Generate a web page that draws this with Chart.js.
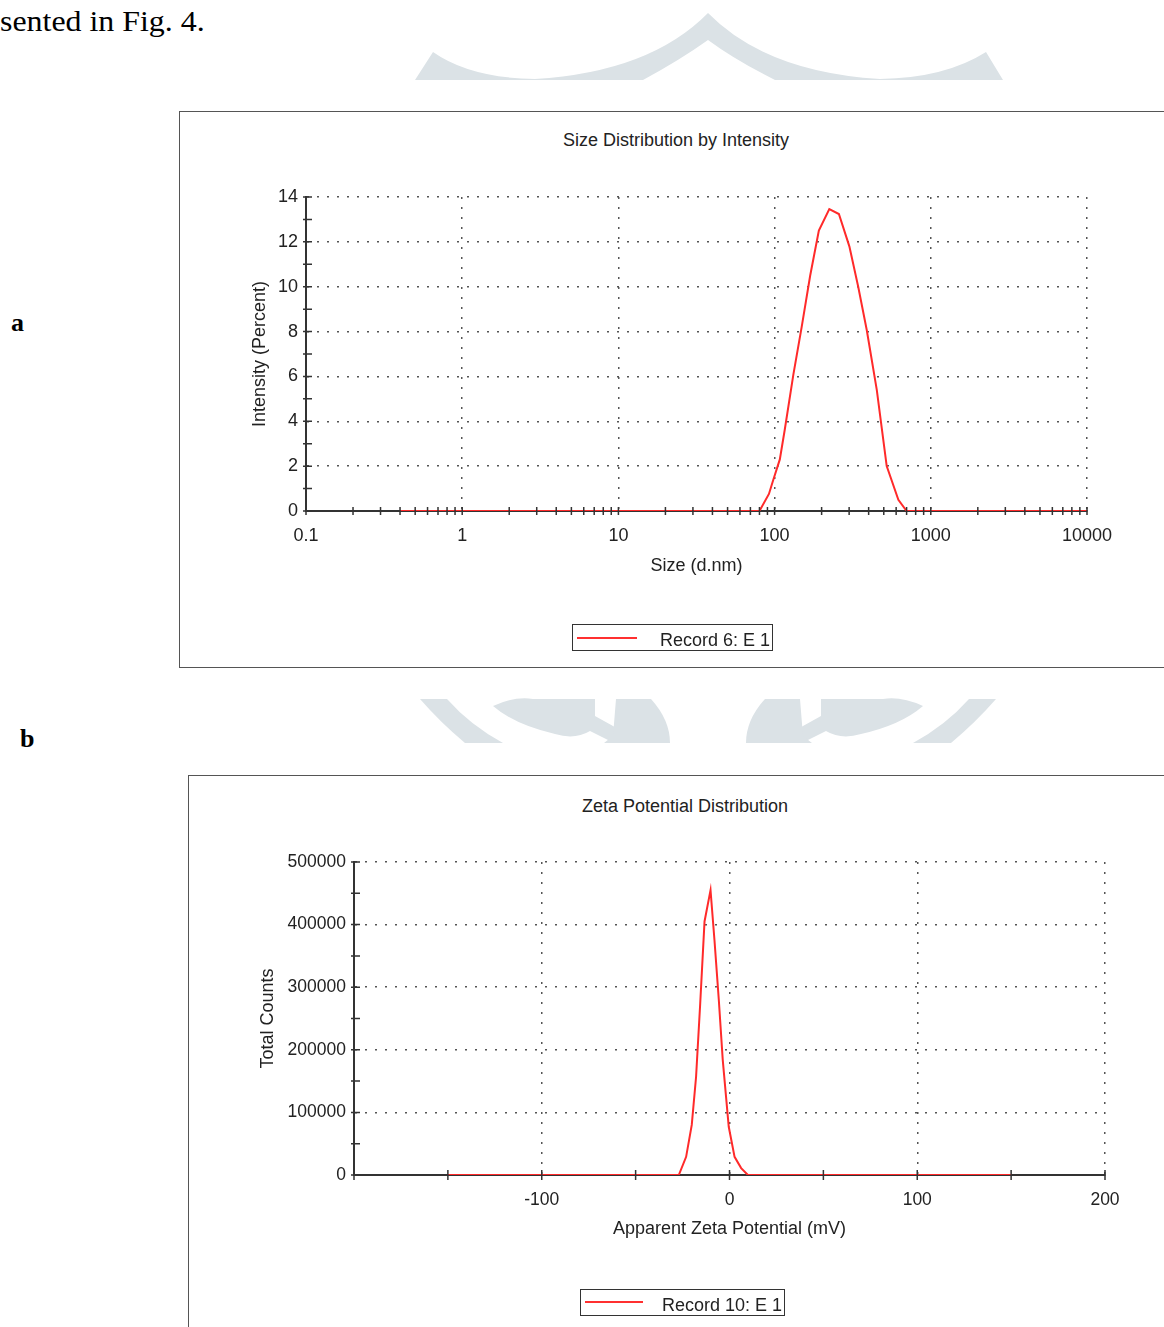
<!DOCTYPE html>
<html>
<head>
<meta charset="utf-8">
<script src="https://cdn.jsdelivr.net/npm/chart.js@4.4.1/dist/chart.umd.min.js"></script>
<style>
    body {
        margin: 0;
        width: 1164px;
        height: 1327px;
        position: relative;
        overflow: hidden;
        background: #fff;
        font-family: "Liberation Sans", Arial, sans-serif;
        color: #222;
    }
    .abs { position: absolute; }
    .panel { position: absolute; border: 1.5px solid #555; }
    .title { position: absolute; font-size: 18px; white-space: nowrap; transform: translate(-50%, -50%); }
    .legend { position: absolute; border: 1.5px solid #333; height: 25px; font-size: 18px; }
    .legend .swatch { position: absolute; left: 4px; top: 11px; width: 60px; height: 2px; background: #ff3030; }
    .legend .txt { position: absolute; right: 2px; top: 4px; line-height: 22px; }
    .serif { font-family: "Liberation Serif", "Times New Roman", serif; color: #000; }
    canvas { position: absolute; }
</style>
</head>
<body>
<svg class="abs" style="left:0;top:0" width="1164" height="1327">
    <g fill="#dbe2e6">
        <path d="M415,80 L433,52 Q470,78 535,79 Q650,72 708,13 Q766,72 880,79 Q945,78 986,52 L1003,80 L775,80 Q735,60 708,40 Q680,60 643,80 Z"/>
        <g id="wmHalf">
            <path d="M420,699 L447,699 Q470,725 503,743 L465,743 Q440,722 420,699 Z"/>
            <path d="M493,706 Q515,696 533,699 L595,699 L595,716 L622,731 L612,742 L590,731 Q575,740 555,734 Q515,725 493,706 Z"/>
            <path d="M616,699 L651,699 Q670,720 670,743 L604,743 L613,736 Z"/>
        </g>
        <use href="#wmHalf" transform="translate(1416,0) scale(-1,1)"/>
    </g>
</svg>

<div class="abs serif" style="left:0;top:7px;font-size:29px;line-height:29px;transform:scaleX(1.1);transform-origin:0 0">sented in Fig. 4.</div>
<div class="abs serif" style="left:11px;top:308px;font-size:26px;line-height:30px;font-weight:bold">a</div>
<div class="abs serif" style="left:20px;top:724px;font-size:26px;line-height:30px;font-weight:bold">b</div>

<div class="panel" style="left:179px;top:111px;width:1000px;height:555px"></div>
<div class="panel" style="left:188px;top:775px;width:1000px;height:600px"></div>

<div class="title" style="left:676px;top:140px">Size Distribution by Intensity</div>
<div class="title" style="left:685px;top:806px">Zeta Potential Distribution</div>

<canvas id="sizeChart" width="984" height="556" style="left:180px;top:112px"></canvas>
<canvas id="zetaChart" width="975" height="551" style="left:189px;top:776px"></canvas>

<div class="legend" style="left:572px;top:624px;width:199px">
    <div class="swatch" style="top:12px"></div><span class="txt">Record 6: E 1</span>
</div>
<div class="legend" style="left:580px;top:1289px;width:203px">
    <div class="swatch" style="width:58px"></div><span class="txt">Record 10: E 1</span>
</div>

<script>
// size distribution (a)
const sizeNm = [0.4, 80, 92, 98, 108, 116, 132, 149, 169, 192, 224, 258, 301, 343, 389, 451, 522, 620, 700, 10000];
const intensityPct = [0, 0, 0.76, 1.38, 2.3, 3.6, 6.1, 8.2, 10.5, 12.5, 13.46, 13.24, 11.8, 10.0, 8.07, 5.4, 2.0, 0.5, 0, 0];
const sizeDecades = [0.1, 1, 10, 100, 1000, 10000];
const intensityLabels = [0, 2, 4, 6, 8, 10, 12, 14];

// zeta potential (b)
const zetaMv = [-150, -27, -23.1, -20.1, -17.8, -15.6, -13.3, -10.1, -8.0, -5.7, -3.6, -0.4, 2.7, 6.2, 9.8, 150];
const zetaCounts = [0, 0, 29000, 80000, 157000, 274000, 405000, 455000, 375000, 280000, 184000, 77000, 29000, 11000, 0, 0];
const zetaLabels = [-100, 0, 100, 200];
const countLabels = [0, 100000, 200000, 300000, 400000, 500000];

Chart.defaults.font.family = '"Liberation Sans", Arial, sans-serif';
Chart.defaults.color = "#222";

const GRID = "#555";
const AXIS = "#333";

function isDecade(v) {
    return sizeDecades.some((d) => Math.abs(d - v) / d < 1e-6);
}

// all 1..9 ticks of each decade
const sizeTicks = [];
sizeDecades.slice(0, -1).forEach((d) => {
    for (let m = 1; m <= 9; m++) sizeTicks.push(d * m);
});
sizeTicks.push(10000);

// small tick marks crossing the axes
const tickMarks = {
    id: "tickMarks",
    afterDraw(chart, args, opts) {
        const { ctx, chartArea } = chart;
        const xs = chart.scales.x;
        const ys = chart.scales.y;
        ctx.save();
        ctx.strokeStyle = AXIS;
        ctx.lineWidth = 1.5;
        ctx.beginPath();
        xs.ticks.forEach((t, i) => {
            const px = xs.getPixelForTick(i);
            ctx.moveTo(px, chartArea.bottom - opts.xUp);
            ctx.lineTo(px, chartArea.bottom + opts.xDown);
        });
        ys.ticks.forEach((t, i) => {
            const py = ys.getPixelForTick(i);
            ctx.moveTo(chartArea.left - 3, py);
            ctx.lineTo(chartArea.left + 6, py);
        });
        ctx.stroke();
        ctx.restore();
    },
};

function axisTitle(text) {
    return { display: true, text: text, font: { size: 18 }, color: "#222", padding: 0 };
}

new Chart(document.getElementById("sizeChart"), {
    type: "scatter",
    data: {
        datasets: [
            {
                label: "Record 6: E 1",
                data: sizeNm.map((x, i) => ({ x: x, y: intensityPct[i] })),
                showLine: true,
                borderColor: "#ff2a2a",
                borderWidth: 2,
                pointRadius: 0,
                tension: 0,
            },
        ],
    },
    plugins: [tickMarks],
    options: {
        responsive: false,
        animation: false,
        layout: { padding: { left: 69, right: 77, top: 85, bottom: 91 } },
        plugins: {
            legend: { display: false },
            tooltip: { enabled: false },
            tickMarks: { xUp: 4, xDown: 4 },
        },
        scales: {
            x: {
                type: "logarithmic",
                min: 0.1,
                max: 10000,
                afterBuildTicks: (scale) => {
                    scale.ticks = sizeTicks.map((v) => ({ value: v }));
                },
                afterFit: (scale) => {
                    scale.height = 66;
                },
                ticks: {
                    autoSkip: false,
                    maxRotation: 0,
                    padding: 14,
                    font: { size: 18 },
                    callback: (v) => (isDecade(v) ? String(sizeDecades.find((d) => Math.abs(d - v) / d < 1e-6)) : ""),
                },
                grid: {
                    drawTicks: false,
                    lineWidth: 1.5,
                    color: (c) => (c.tick && isDecade(c.tick.value) ? GRID : "rgba(0,0,0,0)"),
                },
                border: { color: AXIS, width: 2, dash: [2, 8] },
                title: axisTitle("Size (d.nm)"),
            },
            y: {
                min: 0,
                max: 14,
                afterFit: (scale) => {
                    scale.width = 57;
                },
                ticks: {
                    stepSize: 1,
                    autoSkip: false,
                    padding: 8,
                    font: { size: 18 },
                    callback: (v) => (intensityLabels.includes(v) ? String(v) : ""),
                },
                grid: {
                    drawTicks: false,
                    lineWidth: 1.5,
                    color: (c) => (c.tick && intensityLabels.includes(c.tick.value) ? GRID : "rgba(0,0,0,0)"),
                },
                border: { color: AXIS, width: 2, dash: [2, 8] },
                title: axisTitle("Intensity (Percent)"),
            },
        },
    },
});

new Chart(document.getElementById("zetaChart"), {
    type: "scatter",
    data: {
        datasets: [
            {
                label: "Record 10: E 1",
                data: zetaMv.map((x, i) => ({ x: x, y: zetaCounts[i] })),
                showLine: true,
                borderColor: "#ff2a2a",
                borderWidth: 2,
                pointRadius: 0,
                tension: 0,
            },
        ],
    },
    plugins: [tickMarks],
    options: {
        responsive: false,
        animation: false,
        layout: { padding: { left: 68, right: 59, top: 86, bottom: 87 } },
        plugins: {
            legend: { display: false },
            tooltip: { enabled: false },
            tickMarks: { xUp: 5, xDown: 5 },
        },
        scales: {
            x: {
                min: -200,
                max: 200,
                afterFit: (scale) => {
                    scale.height = 65;
                },
                ticks: {
                    stepSize: 50,
                    autoSkip: false,
                    maxRotation: 0,
                    padding: 15,
                    font: { size: 17.5 },
                    callback: (v) => (zetaLabels.includes(v) ? String(v) : ""),
                },
                grid: {
                    drawTicks: false,
                    lineWidth: 1.5,
                    color: (c) => (c.tick && zetaLabels.includes(c.tick.value) ? GRID : "rgba(0,0,0,0)"),
                },
                border: { color: AXIS, width: 2, dash: [2, 8] },
                title: axisTitle("Apparent Zeta Potential (mV)"),
            },
            y: {
                min: 0,
                max: 500000,
                afterFit: (scale) => {
                    scale.width = 97;
                },
                ticks: {
                    stepSize: 50000,
                    autoSkip: false,
                    padding: 8,
                    font: { size: 17.5 },
                    callback: (v) => (countLabels.includes(v) ? String(v) : ""),
                },
                grid: {
                    drawTicks: false,
                    lineWidth: 1.5,
                    color: (c) => (c.tick && countLabels.includes(c.tick.value) ? GRID : "rgba(0,0,0,0)"),
                },
                border: { color: AXIS, width: 2, dash: [2, 8] },
                title: axisTitle("Total Counts"),
            },
        },
    },
});
</script>
</body>
</html>
